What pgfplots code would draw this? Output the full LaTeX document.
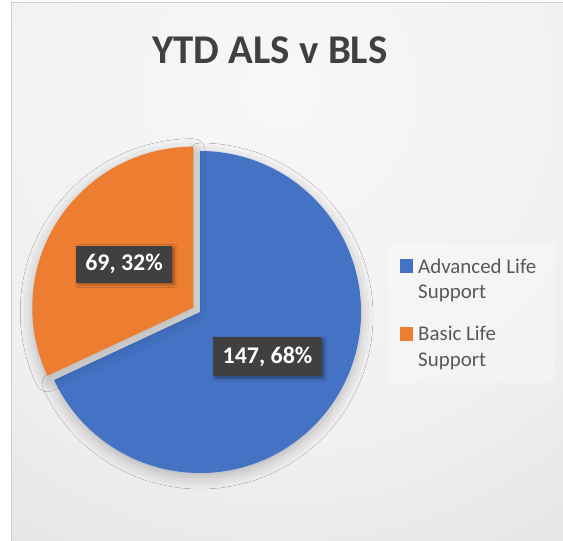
\documentclass[border=0pt]{standalone}
\usepackage{fontspec}
\setmainfont{Carlito}
\usepackage{pgfplots}
\usepackage{pgfplotstable}
\pgfplotsset{compat=1.18}
\usetikzlibrary{shadows.blur}

\definecolor{als}{HTML}{4472C4}
\definecolor{bls}{HTML}{ED7D31}
\definecolor{titlegray}{HTML}{404040}
\definecolor{textgray}{HTML}{595959}
\definecolor{lblbg}{HTML}{404040}
\definecolor{framegray}{HTML}{D0D0D0}

\pgfdeclareradialshading{chartbg}{\pgfpoint{0bp}{0bp}}{%
  color(0bp)=(white!97!black);
  color(15bp)=(white!94!black);
  color(35bp)=(white!83!black);
  color(50bp)=(white!76!black)}

% slice values
\pgfplotstableread{
label value
ALS 147
BLS 69
}\piedata

\begin{document}
\begin{tikzpicture}
\pgfplotstablegetelem{0}{value}\of\piedata \let\valALS\pgfplotsretval
\pgfplotstablegetelem{1}{value}\of\piedata \let\valBLS\pgfplotsretval
\pgfmathsetmacro\angALS{360*(\valALS/(\valALS+\valBLS))}
\pgfmathsetmacro\angBLS{360-\angALS}
\pgfmathsetmacro\midBLS{90+\angBLS/2}
\begin{axis}[
  width=563bp, height=541bp, scale only axis,
  xmin=0, xmax=563, ymin=0, ymax=541, y dir=reverse,
  hide axis, clip=false]

  % chart area with gradient fill
  \begin{scope}
    \clip (axis cs:11.5,2.5) rectangle (axis cs:600,600);
    \shade[shading=chartbg] (axis cs:280,90) circle[radius=600bp];
  \end{scope}
  \draw[framegray, line width=1bp] (axis cs:11.5,560) -- (axis cs:11.5,2.5) -- (axis cs:580,2.5);

  \node[anchor=base, text=titlegray, font=\fontsize{41}{48}\selectfont\bfseries]
    at (axis cs:270,63) {YTD ALS v BLS};

  % pie: ALS from 12 o'clock clockwise, BLS exploded a little
  \fill[als, blur shadow={shadow xshift=0bp, shadow yshift=-4bp, shadow blur radius=12bp, shadow opacity=25}]
    (axis cs:200,312) -- ++(90:161bp) arc[start angle=90, end angle=90-\angALS, radius=161bp] -- cycle;
  \fill[bls, blur shadow={shadow xshift=0bp, shadow yshift=-4bp, shadow blur radius=12bp, shadow opacity=25}]
    ([shift={(\midBLS:8bp)}]axis cs:200,312) -- ++(90:161bp) arc[start angle=90, end angle=90+\angBLS, radius=161bp] -- cycle;

  % data labels
  \node[fill=lblbg, text=white, font=\fontsize{24}{28}\selectfont\bfseries,
        minimum width=96bp, minimum height=37bp, inner sep=0pt,
        blur shadow={shadow xshift=2bp, shadow yshift=-2bp, shadow blur radius=3bp, shadow opacity=40}]
    at (axis cs:124,264) {\valBLS, 32\%};
  \node[fill=lblbg, text=white, font=\fontsize{24}{28}\selectfont\bfseries,
        minimum width=109bp, minimum height=39bp, inner sep=0pt,
        blur shadow={shadow xshift=2bp, shadow yshift=-2bp, shadow blur radius=3bp, shadow opacity=40}]
    at (axis cs:267.5,356.5) {\valALS, 68\%};

  % legend
  \fill[white, fill opacity=0.3] (axis cs:388,243) rectangle (axis cs:555,383);
  \fill[als] (axis cs:399.5,258.5) rectangle (axis cs:413,272.5);
  \fill[bls] (axis cs:399.5,326.5) rectangle (axis cs:413,340.5);
  \begin{scope}[every node/.style={anchor=base west, inner sep=0pt, text=textgray,
                font=\fontsize{21}{25}\selectfont}]
    \node at (axis cs:418,273) {Advanced Life};
    \node at (axis cs:418,298) {Support};
    \node at (axis cs:418,340) {Basic Life};
    \node at (axis cs:418,366) {Support};
  \end{scope}
\end{axis}
\pgfresetboundingbox
\path (current axis.south west) rectangle (current axis.north east);
\end{tikzpicture}
\end{document}
